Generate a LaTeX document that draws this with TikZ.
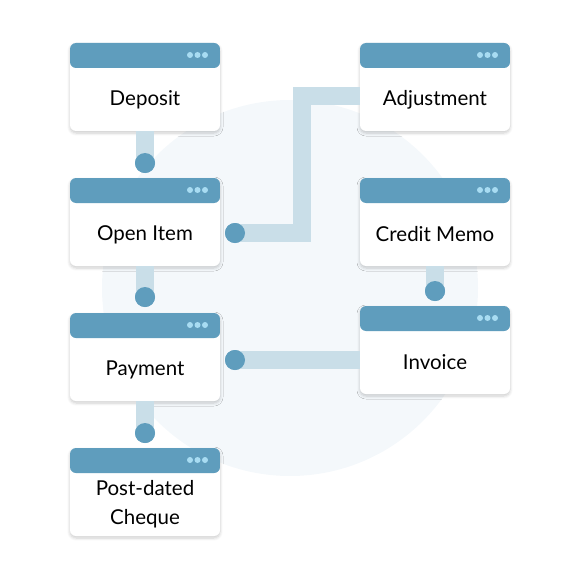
\documentclass[tikz,border=0pt]{standalone}
\usepackage{fontspec}
\setmainfont{Lato}
\usetikzlibrary{shadows.blur}
\definecolor{headblue}{HTML}{5F9DBD}
\definecolor{dotlight}{HTML}{A8DCF2}
\definecolor{barblue}{HTML}{C9DEE8}
\definecolor{bgblue}{HTML}{F4F8FB}
\tikzset{
  recbox/.style={rounded corners=6pt, fill=white, minimum width=150pt, minimum height=88pt, inner sep=0pt,
    blur shadow={shadow blur steps=6, shadow xshift=0pt, shadow yshift=-2pt, shadow blur radius=3pt, shadow opacity=20},
    path picture={
      \fill[headblue] (path picture bounding box.north west) rectangle ([yshift=-25pt]path picture bounding box.north east);
      \foreach \dx in {15,22.5,30}
        \fill[dotlight] ([xshift=-\dx pt, yshift=-12pt]path picture bounding box.north east) circle (3pt);
    }},
  rectext/.style={font=\fontsize{20.5}{29}\selectfont, align=center, yshift=-12.5pt},
  link/.style={barblue, line width=18pt},
  knob/.style={circle, fill=headblue, minimum size=20pt, inner sep=0pt}
}
\begin{document}
\begin{tikzpicture}[x=1pt, y=-1pt]
    \useasboundingbox (0,0) rectangle (580,580);
    % Background disc
    \fill[bgblue] (290,288) circle (188);

    % Left column
    \node[recbox, label={[rectext]center:Deposit}] (deposit) at (145,87) {};
    \node[recbox, label={[rectext]center:Open Item}] (openitem) at (145,222) {};
    \node[recbox, label={[rectext]center:Payment}] (payment) at (145,357) {};
    \node[recbox, label={[rectext]center:Post-dated\\Cheque}] (cheque) at (145,492) {};

    % Right column
    \node[recbox, label={[rectext]center:Adjustment}] (adjust) at (435,87) {};
    \node[recbox, label={[rectext]center:Credit Memo}] (credit) at (435,222) {};
    \node[recbox, label={[rectext]center:Invoice}] (invoice) at (435,350) {};

    % Connector knobs
    \node[knob] (k1) at (145,163) {};
    \node[knob] (k2) at (145,297) {};
    \node[knob] (k3) at (145,433) {};
    \node[knob] (k4) at (235,233) {};
    \node[knob] (k5) at (435,291) {};
    \node[knob] (k6) at (235,360) {};

    % Connector bars
    \draw[link] (deposit.south) -- (k1.center);
    \draw[link] (openitem.south) -- (k2.center);
    \draw[link] (payment.south) -- (k3.center);
    \draw[link] (credit.south) -- (k5.center);
    \draw[link] (adjust.west |- 0,96) -| (302,233) -- (k4.center);
    \draw[link] (invoice.west |- 0,360) -- (k6.center);

    % Knobs on top of the bars
    \foreach \k in {k1,k2,k3,k4,k5,k6}
      \fill[headblue] (\k) circle (10pt);
\end{tikzpicture}
\end{document}
